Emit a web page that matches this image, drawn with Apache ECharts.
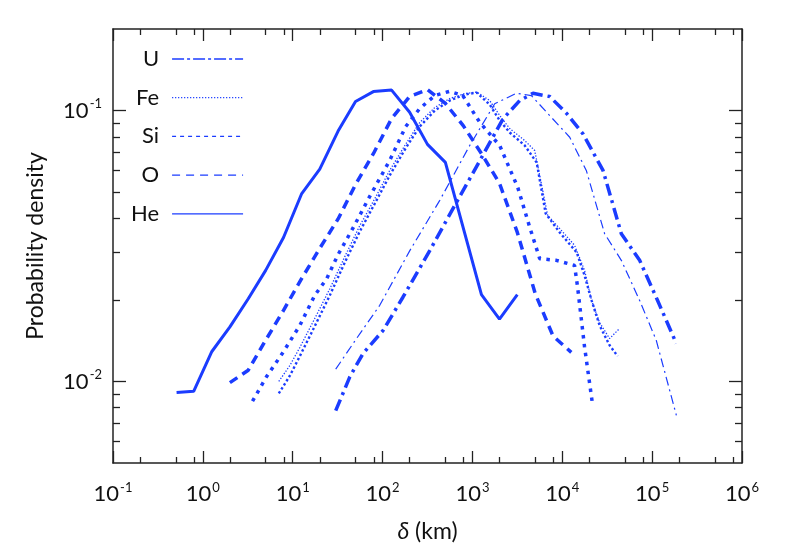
<!DOCTYPE html>
<html><head><meta charset="utf-8">
<script src="https://cdn.jsdelivr.net/npm/echarts@6/dist/echarts.min.js"></script>
<style>html,body{margin:0;padding:0;background:#fff}#c{width:789px;height:554px}</style>
</head><body><div id="c"></div>
<script>
// ---- data ----
const xMajor = [0.1, 1, 10, 100, 1000, 1e4, 1e5, 1e6];
const xMinor = [0.2, 0.5, 0.8, 2, 5, 8, 20, 50, 80, 200, 500, 800, 2000, 5000, 8000, 2e4, 5e4, 8e4, 2e5, 5e5, 8e5];
const yMajor = [0.01, 0.1];
const yMinor = [0.006, 0.007, 0.008, 0.009, 0.02, 0.03, 0.04, 0.05, 0.06, 0.07, 0.08, 0.09];
const legendNames = ['U', 'Fe', 'Si', 'O', 'He'];

const heX = [0.51, 0.79, 1.26, 2.0, 3.2, 5.0, 7.9, 12.6, 20, 32, 50, 79, 126, 200, 316, 500, 1260, 2000, 3160];
const heY = [0.0091, 0.0092, 0.0129, 0.0159, 0.0202, 0.0257, 0.0340, 0.0494, 0.0608, 0.0840, 0.108, 0.1175, 0.119, 0.0986, 0.075, 0.0644, 0.0209, 0.0170, 0.0209];

const oX = [2.0, 3.2, 5.0, 7.9, 12.6, 20, 32, 50, 79, 126, 200, 316, 500, 790, 1260, 2000, 3160, 5000, 7900, 12600];
const oY = [0.0099, 0.0110, 0.0142, 0.0183, 0.0240, 0.0310, 0.0398, 0.0533, 0.0693, 0.0934, 0.1127, 0.1196, 0.1062, 0.0880, 0.0694, 0.0539, 0.0355, 0.0211, 0.0147, 0.0128];

const siX = [3.57, 5.1, 7.8, 12.0, 17.6, 23.8, 32, 46.6, 72, 120, 181, 259, 381, 559, 780, 1205, 2010, 3190, 4340, 5610, 8590, 13700, 14800, 17700, 21800];
const siY = [0.00846, 0.0104, 0.0128, 0.0161, 0.0208, 0.0239, 0.0294, 0.0367, 0.0482, 0.0654, 0.0873, 0.1017, 0.1136, 0.1178, 0.1136, 0.0905, 0.0743, 0.0521, 0.0371, 0.0284, 0.0280, 0.0268, 0.0223, 0.0134, 0.00815];

const feAX = [7.0, 9.3, 12.0, 17.6, 25.9, 38, 55.8, 82, 120, 177, 259, 381, 559, 820, 1116, 1556, 2014, 2600, 3820, 4930, 5900, 6880, 9350, 13700, 17700, 21200, 26000, 33600, 43500];
const feAY = [0.0100, 0.01146, 0.01335, 0.01708, 0.0220, 0.0289, 0.0376, 0.0473, 0.0601, 0.0743, 0.0903, 0.1026, 0.1107, 0.1155, 0.117, 0.1089, 0.0958, 0.0858, 0.0775, 0.0712, 0.0529, 0.0410, 0.0367, 0.0318, 0.0257, 0.0199, 0.0165, 0.0144, 0.0157];

const feBX = [7.0, 9.3, 12.0, 17.6, 25.9, 38, 55.8, 82, 120, 177, 259, 381, 559, 820, 1116, 1556, 2014, 2600, 3820, 5190, 6530, 9350, 14500, 17700, 21200, 26000, 33600, 41300];
const feBY = [0.00903, 0.0105, 0.0124, 0.0160, 0.0208, 0.0275, 0.0358, 0.0454, 0.0576, 0.0718, 0.0873, 0.100, 0.1089, 0.1146, 0.1165, 0.1052, 0.0918, 0.0830, 0.0743, 0.0643, 0.0417, 0.0355, 0.0299, 0.0246, 0.0199, 0.0161, 0.0136, 0.0124];

const uAX = [30.1, 51.3, 93, 201, 433, 933, 1770, 3080, 4530, 7250, 12100, 18500, 29600, 45400, 72600, 111000, 186000];
const uAY = [0.0111, 0.0144, 0.0191, 0.0304, 0.0466, 0.0743, 0.1059, 0.1158, 0.1136, 0.0958, 0.0797, 0.0601, 0.0351, 0.0280, 0.0199, 0.0142, 0.0075];

const uBX = [30.1, 43.2, 60.7, 101, 169, 335, 635, 1300, 2190, 3360, 4720, 7250, 11200, 17000, 28400, 35500, 45400, 72600, 115000, 186000];
const uBY = [0.0078, 0.0104, 0.0127, 0.0154, 0.0205, 0.0304, 0.0446, 0.0682, 0.0932, 0.1089, 0.1158, 0.1126, 0.0975, 0.0820, 0.0601, 0.0466, 0.0351, 0.0280, 0.0199, 0.0138];

// ---- styling ----
const BLUE = '#1b3cff';
const INK = '#222';
const FONT = 'Lato';
const rich = {
  b: { fontFamily: FONT, fontSize: 22, color: '#111' },
  s: { fontFamily: FONT, fontSize: 13, color: '#111', padding: [0, 0, 13, 1] }
};
function supLabel(v) {
  const e = Math.round(Math.log10(v));
  return '{b|10}{s|' + e + '}';
}
function pairs(xs, ys) { return xs.map((x, i) => [x, ys[i]]); }

function xAx(position, ticks, len, showLabel, showLine, extra) {
  return Object.assign({
    type: 'log', logBase: 10, min: 0.1, max: 1e6, position: position,
    axisLine: { show: showLine, lineStyle: { color: INK, width: 1.5 } },
    axisTick: { show: true, inside: true, length: len, customValues: ticks, lineStyle: { color: INK, width: 1.3 } },
    axisLabel: { show: showLabel, customValues: ticks, formatter: supLabel, margin: 18, rich: rich },
    splitLine: { show: false }, minorTick: { show: false }, minorSplitLine: { show: false }
  }, extra || {});
}
function yAx(position, ticks, len, showLabel, showLine, extra) {
  return Object.assign({
    type: 'log', logBase: 10, min: 0.005, max: 0.2, position: position,
    axisLine: { show: showLine, lineStyle: { color: INK, width: 1.5 } },
    axisTick: { show: true, inside: true, length: len, customValues: ticks, lineStyle: { color: INK, width: 1.3 } },
    axisLabel: { show: showLabel, customValues: ticks, formatter: supLabel, margin: 11, rich: rich },
    splitLine: { show: false }, minorTick: { show: false }, minorSplitLine: { show: false }
  }, extra || {});
}

function dataLine(name, xs, ys, width, type) {
  return { name: name, type: 'line', data: pairs(xs, ys), symbol: 'none', silent: true,
    lineStyle: { color: BLUE, width: width, type: type }, itemStyle: { color: BLUE } };
}
function legendLine(name, type) {
  return { name: name, type: 'line', data: [], symbol: 'none', showSymbol: false,
    lineStyle: { color: BLUE, width: 1.3, type: type }, itemStyle: { color: BLUE } };
}

const chart = echarts.init(document.getElementById('c'), null, { renderer: 'canvas' });
chart.setOption({
  animation: false,
  backgroundColor: '#fff',
  grid: { left: 113, right: 47, top: 29, bottom: 91, containLabel: false },
  legend: {
    data: legendNames, orient: 'vertical', align: 'right', left: 131, top: 48, padding: 0,
    itemWidth: 71, itemHeight: 20, itemGap: 16.7,
    textStyle: { fontFamily: FONT, fontSize: 22, color: '#111', padding: [0, 8, 0, 0] },
    lineStyle: { width: 1.3 },
    itemStyle: { opacity: 0, borderWidth: 0 }
  },
  xAxis: [
    xAx('bottom', xMajor, 12, true, true, {
      name: '{i|δ} (km)', nameLocation: 'middle', nameGap: 57,
      nameTextStyle: { fontFamily: FONT, fontSize: 23, color: '#111',
        rich: { i: { fontFamily: FONT, fontSize: 23, fontStyle: 'italic', color: '#111' } } }
    }),
    xAx('bottom', xMinor, 6, false, false),
    xAx('top', xMajor, 12, false, true),
    xAx('top', xMinor, 6, false, false)
  ],
  yAxis: [
    yAx('left', yMajor, 13, true, true, {
      name: 'Probability density', nameLocation: 'middle', nameGap: 66, nameRotate: 90,
      nameTextStyle: { fontFamily: FONT, fontSize: 23, color: '#111' }
    }),
    yAx('left', yMinor, 7, false, false),
    yAx('right', yMajor, 13, false, true),
    yAx('right', yMinor, 7, false, false)
  ],
  series: [
    legendLine('U', [12, 3, 3, 3]),
    legendLine('Fe', [1.2, 1.8]),
    legendLine('Si', [4, 4]),
    legendLine('O', [8, 6]),
    legendLine('He', 'solid'),
    dataLine('He curve', heX, heY, 3, 'solid'),
    dataLine('O curve', oX, oY, 3.5, [9, 6]),
    dataLine('Si curve', siX, siY, 3.5, [3.5, 5.5]),
    dataLine('Fe curve a', feAX, feAY, 1.3, [1.3, 1.7]),
    dataLine('Fe curve b', feBX, feBY, 2.4, [2.4, 2.4]),
    dataLine('U curve a', uAX, uAY, 1.2, [9, 4, 2, 4]),
    dataLine('U curve b', uBX, uBY, 3.5, [12, 5, 3, 5])
  ]
});
</script>
</body></html>
